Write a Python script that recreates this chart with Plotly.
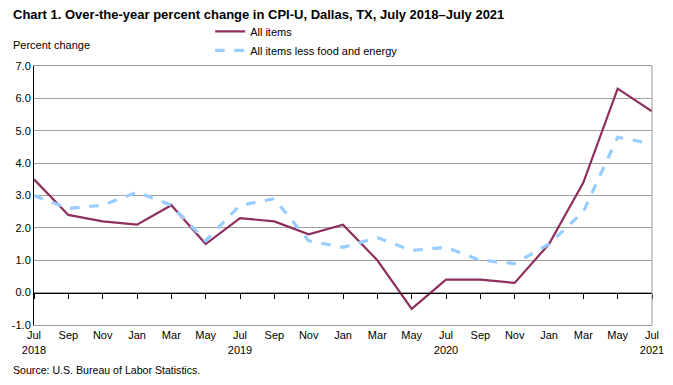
import plotly.graph_objects as go

months = ["Jul", "Sep", "Nov", "Jan", "Mar", "May", "Jul", "Sep", "Nov", "Jan",
          "Mar", "May", "Jul", "Sep", "Nov", "Jan", "Mar", "May", "Jul"]
years = ["2018", "", "", "", "", "", "2019", "", "", "", "", "", "2020", "", "", "", "", "", "2021"]
all_items = [3.5, 2.4, 2.2, 2.1, 2.7, 1.5, 2.3, 2.2, 1.8, 2.1, 1.0, -0.5, 0.4, 0.4, 0.3, 1.5, 3.4, 6.3, 5.6]
core = [3.0, 2.6, 2.7, 3.1, 2.7, 1.6, 2.7, 2.9, 1.6, 1.4, 1.7, 1.3, 1.4, 1.0, 0.9, 1.5, 2.5, 4.8, 4.6]
y_ticks = [-1, 0, 1, 2, 3, 4, 5, 6, 7]

x = list(range(len(months)))
ticktext = [m + ("<br>" + y if y else "<br> ") for m, y in zip(months, years)]

FONT = "Liberation Sans, Arial, sans-serif"

fig = go.Figure()
fig.add_trace(go.Scatter(x=x, y=all_items, mode="lines", name="All items",
                         line=dict(color="#8E2F5E", width=2.2)))
fig.add_trace(go.Scatter(x=x, y=core, mode="lines", name="All items less food and energy",
                         line=dict(color="#99CCFF", width=3.2, dash="dash")))
# invisible trace to carry the zero-line tick axis
fig.add_trace(go.Scatter(x=x, y=[0] * len(x), xaxis="x2", mode="lines",
                         line=dict(width=0), showlegend=False, hoverinfo="skip"))

fig.update_layout(
    width=673, height=385,
    margin=dict(l=34, r=21, t=66, b=60, autoexpand=False),
    paper_bgcolor="white", plot_bgcolor="white",
    font=dict(family=FONT, size=11, color="black"),
    showlegend=True,
    legend=dict(x=0.285, y=1.19, xanchor="left", yanchor="top",
                font=dict(size=11), bgcolor="rgba(0,0,0,0)",
                tracegroupgap=0, itemwidth=30),
    xaxis=dict(range=[0, 18], tickmode="array", tickvals=x, ticktext=ticktext,
               showgrid=False, ticks="", showline=True, linecolor="#999999",
               linewidth=1, mirror=True, tickfont=dict(size=11), zeroline=False),
    xaxis2=dict(overlaying="x", anchor="free", position=0.125, range=[0, 18],
                tickmode="array", tickvals=x, showticklabels=False,
                ticks="outside", ticklen=5, tickcolor="black", tickwidth=1,
                showline=True, linecolor="black", linewidth=1.2, showgrid=False,
                zeroline=False),
    yaxis=dict(range=[-1, 7], tickmode="array", tickvals=y_ticks,
               ticktext=[f"{v:.1f}" for v in y_ticks],
               showgrid=True, gridcolor="#A0A0A0", gridwidth=1,
               showline=True, linecolor="black", linewidth=1,
               zeroline=False, ticks="", tickfont=dict(size=11)),
    shapes=[dict(type="line", xref="paper", yref="paper", x0=1, x1=1, y0=0, y1=1,
                 line=dict(color="#999999", width=1))],
    annotations=[
        dict(text="<b>Chart 1. Over-the-year percent change in CPI-U, Dallas, TX, July 2018\u2013July 2021</b>",
             xref="paper", yref="paper", x=-0.037, y=1.200, xanchor="left", yanchor="middle",
             showarrow=False, font=dict(size=13)),
        dict(text="Percent change", xref="paper", yref="paper", x=-0.037, y=1.081,
             xanchor="left", yanchor="middle", showarrow=False, font=dict(size=11)),
        dict(text="Source: U.S. Bureau of Labor Statistics.", xref="paper", yref="paper",
             x=-0.037, y=-0.174, xanchor="left", yanchor="middle", showarrow=False,
             font=dict(size=10.6)),
    ],
)

fig.write_html("out.html", config={"displayModeBar": False},
               post_script="document.body.style.margin='0';document.body.style.overflow='hidden';")
